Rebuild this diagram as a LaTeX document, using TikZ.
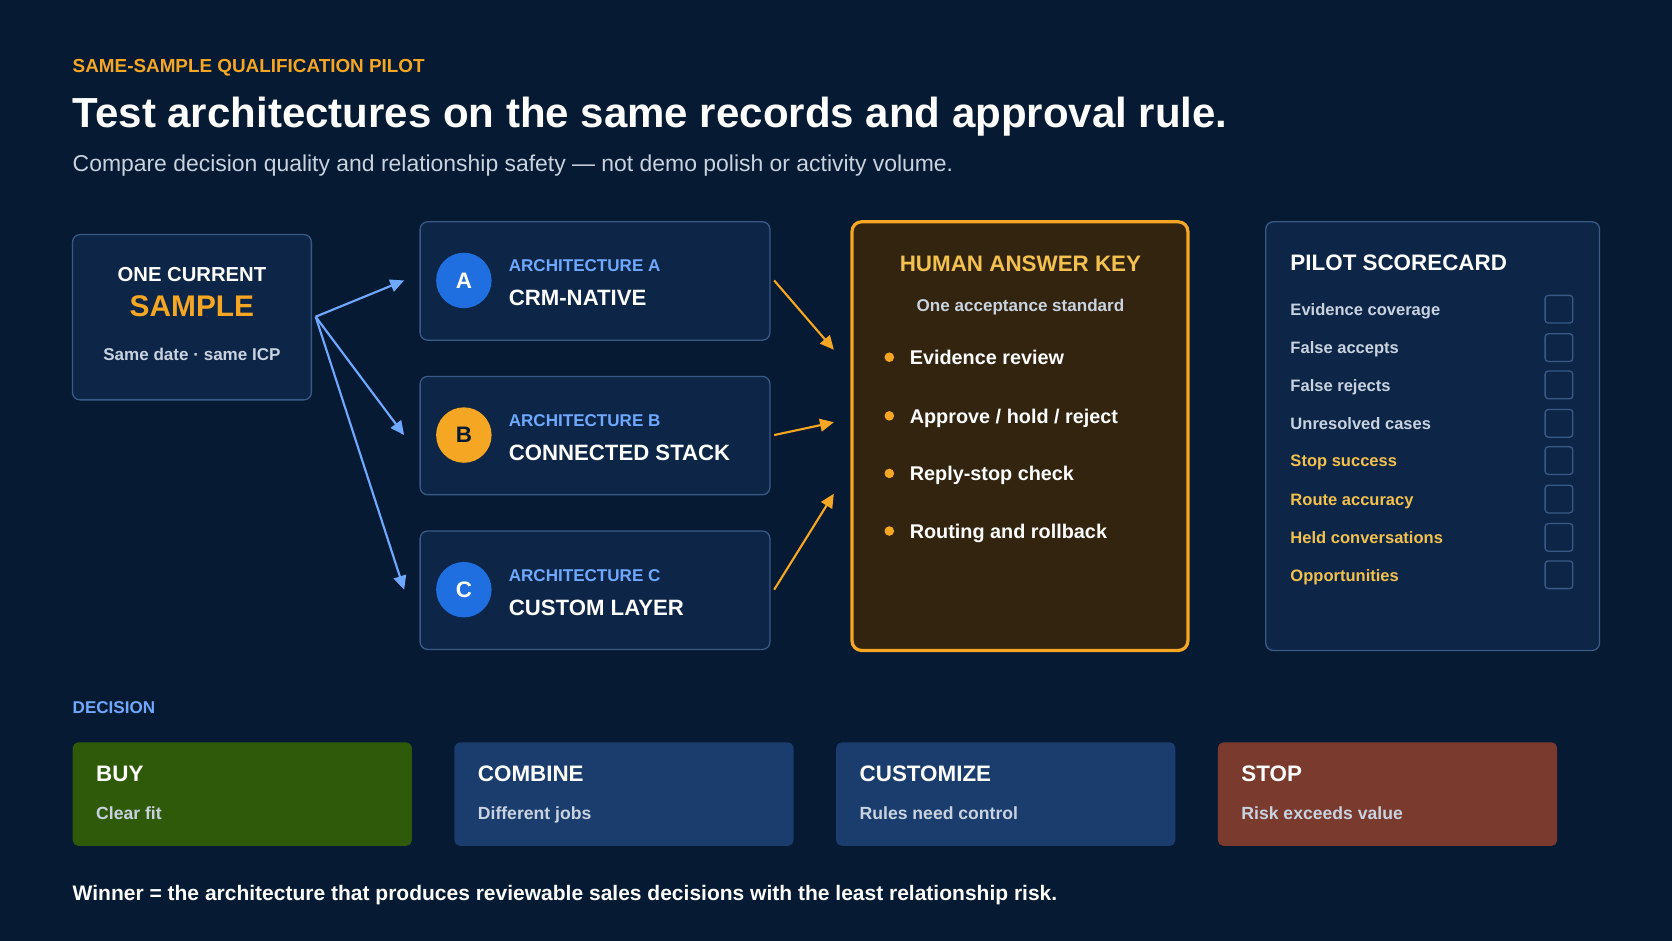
\documentclass[tikz,border=0pt]{standalone}
\usepackage{fontspec}
\setmainfont{Liberation Sans}
\usetikzlibrary{arrows.meta}
\definecolor{bg}{HTML}{061A33}
\definecolor{panel}{HTML}{0D2547}
\definecolor{pborder}{HTML}{3A5A85}
\definecolor{orng}{HTML}{F5A623}
\definecolor{gold}{HTML}{F2C14E}
\definecolor{lblue}{HTML}{6EA8FF}
\definecolor{cblue}{HTML}{1F6FE0}
\definecolor{soft}{HTML}{C9D3E0}
\definecolor{keyfill}{HTML}{33240F}
\definecolor{buyc}{HTML}{2E5A0A}
\definecolor{midc}{HTML}{1A3D6E}
\definecolor{stopc}{HTML}{7A3A2E}
\newcommand{\fs}[1]{\fontsize{#1}{#1}\selectfont}
\tikzset{
 panel/.style={draw=pborder,line width=1.2pt,fill=panel,rounded corners=7pt},
 c/.style={inner sep=0pt,text depth=0pt,font=\fs{#1}\bfseries,
   /utils/exec={\pgfmathsetmacro\myth{0.76*#1}},text height=\myth pt},
 t/.style={c=#1,anchor=west},
 circ/.style={circle,minimum size=52pt,inner sep=0pt,font=\fs{21}\bfseries},
 barr/.style={draw=lblue,line width=2pt,-{Triangle[length=13pt,width=12pt]}},
 oarr/.style={draw=orng,line width=2pt,-{Triangle[length=13pt,width=12pt]}},
 chk/.style={draw=pborder,line width=1.2pt,rounded corners=3pt,minimum size=26pt,inner sep=0pt},
 dec/.style={rounded corners=5pt,minimum width=318pt,minimum height=97pt,anchor=north west,inner sep=0pt},
 bul/.style={circle,fill=orng,minimum size=9pt,inner sep=0pt},
}
\begin{document}
\begin{tikzpicture}[x=1pt,y=-1pt]
\fill[bg] (0,0) rectangle (1568,882);
\useasboundingbox (0,0) rectangle (1568,882);
\node[t=17.7,text=orng] (kick) at (68,61) {SAME-SAMPLE QUALIFICATION PILOT};
\node[t=39.4,text=white] (title) at (68,105) {Test architectures on the same records and approval rule.};
\node[t=21.5,text=soft,font=\fs{21.5}\mdseries] (sub) at (68,153) {Compare decision quality and relationship safety — not demo polish or activity volume.};
% sample
\draw[panel] (68,220) rectangle (292,375);
\node[c=19,text=white] (s1) at (180,257) {ONE CURRENT};
\node[c=28,text=orng] (s2) at (180,286) {SAMPLE};
\node[c=16,text=soft] (s3) at (180,332) {Same date · same ICP};
\coordinate (src) at (296,297);
% architectures
\foreach \n/\y/\c/\tc/\nm in {A/263/cblue/white/CRM-NATIVE,B/408/orng/bg/CONNECTED STACK,C/553/cblue/white/CUSTOM LAYER}{
 \draw[panel] (394,\y-55) rectangle (722,\y+56);
 \node[circ,fill=\c,text=\tc] (c\n) at (435,\y) {\n};
 \node[t=16,text=lblue] (l\n) at (477,\y-14) {ARCHITECTURE \n};
 \node[t=20.8,text=white] (n\n) at (477,\y+16) {\nm};
 \coordinate (in\n) at (379,\y);
 \coordinate (out\n) at (726,\y);
}
\draw[barr] (src) -- (inA);
\draw[barr] (src) -- (inB);
\draw[barr] (src) -- (inC);
% key
\draw[draw=orng,line width=3pt,fill=keyfill,rounded corners=9pt] (799,208) rectangle (1114,610);
\coordinate (k1) at (782,328);
\coordinate (k2) at (782,396);
\coordinate (k3) at (782,463);
\draw[oarr] (outA) -- (k1);
\draw[oarr] (outB) -- (k2);
\draw[oarr] (outC) -- (k3);
\node[c=21,text=gold] (kt) at (957,247) {HUMAN ANSWER KEY};
\node[c=16,text=soft] (ks) at (957,286) {One acceptance standard};
\foreach \i/\y/\s in {1/335/{Evidence review},2/390/{Approve / hold / reject},3/444/{Reply-stop check},4/498/{Routing and rollback}}{
 \node[bul] (b\i) at (834,\y) {};
 \node[t=18.6,text=white] (bt\i) at (853,\y) {\s};
}
% scorecard
\draw[panel] (1187,208) rectangle (1500,610);
\node[t=21,text=white] (st) at (1210,246) {PILOT SCORECARD};
\foreach \i/\y/\c/\s in {1/290/soft/Evidence coverage,2/326/soft/False accepts,3/361/soft/False rejects,4/397/soft/Unresolved cases,5/432/gold/Stop success,6/468/gold/Route accuracy,7/504/gold/Held conversations,8/539/gold/Opportunities}{
 \node[t=15.5,text=\c] (si\i) at (1210,\y) {\s};
 \node[chk] (cb\i) at (1462,\y) {};
}
% decision
\node[t=16,text=lblue] (dl) at (68,663) {DECISION};
\foreach \k/\x/\c/\a/\b in {buy/68/buyc/BUY/Clear fit,com/426/midc/COMBINE/Different jobs,cus/784/midc/CUSTOMIZE/Rules need control,stp/1142/stopc/STOP/Risk exceeds value}{
 \node[dec,fill=\c] (d\k) at (\x,696) {};
 \node[t=21,text=white] (d\k t) at (\x+22,725) {\a};
 \node[t=16.5,text=soft] (d\k s) at (\x+22,762) {\b};
}
\node[t=19.7,text=white] (foot) at (68,837) {Winner = the architecture that produces reviewable sales decisions with the least relationship risk.};
\end{tikzpicture}
\end{document}
